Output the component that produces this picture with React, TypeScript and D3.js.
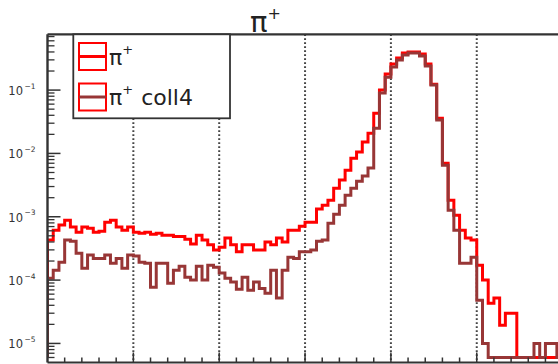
import React from "react";
import * as d3 from "d3";

// histogram binning: 15 bins per major x division, 3 per minor
const nBins = 90;
const binsPerMajor = 15;
const binsPerMinor = 3;

// bin contents (log scale); 0 = empty bin
const piPlus = [
  4.3e-4, 6.1e-4, 7.4e-4, 8.8e-4, 6.9e-4, 5.7e-4, 6.9e-4, 6.6e-4, 5.7e-4, 5.9e-4,
  8.2e-4, 8.8e-4, 6.9e-4, 6.1e-4, 6.9e-4, 5.7e-4, 5.5e-4, 5.7e-4, 5.3e-4, 5.5e-4,
  5.1e-4, 5.1e-4, 4.9e-4, 4.9e-4, 4.4e-4, 3.7e-4, 5.1e-4, 4.3e-4, 3.6e-4, 3.0e-4,
  3.3e-4, 4.6e-4, 3.6e-4, 2.8e-4, 3.6e-4, 3.6e-4, 3.0e-4, 3.0e-4, 4.0e-4, 3.6e-4,
  4.6e-4, 4.0e-4, 6.1e-4, 6.1e-4, 7.1e-4, 8.2e-4, 8.2e-4, 1.32e-3, 1.52e-3, 1.83e-3,
  2.83e-3, 3.8e-3, 5.4e-3, 8.4e-3, 1.05e-2, 1.51e-2, 2.09e-2, 4.3e-2, 0.1, 0.179,
  0.258, 0.321, 0.385, 0.4, 0.4, 0.37, 0.258, 0.124, 3.6e-2, 7.0e-3,
  1.83e-3, 1.06e-3, 6.1e-4, 4.6e-4, 4.3e-4, 1.72e-4, 1.0e-4, 4.3e-5, 5.2e-5, 1.94e-5,
  3.0e-5, 3.0e-5, 0, 0, 0, 0, 0, 0, 0, 0,
];

const piPlusColl4 = [
  1.07e-4, 1.43e-4, 1.92e-4, 4.3e-4, 4.1e-4, 2.66e-4, 1.54e-4, 2.5e-4, 2.2e-4, 2.2e-4,
  2.5e-4, 1.85e-4, 2.2e-4, 1.54e-4, 2.5e-4, 2.4e-4, 1.92e-4, 1.85e-4, 7.7e-5, 1.85e-4,
  1.85e-4, 8.9e-5, 1.43e-4, 1.66e-4, 1.11e-4, 1.0e-4, 1.66e-4, 1.0e-4, 1.72e-4, 1.6e-4,
  1.29e-4, 1.07e-4, 9.3e-5, 7.2e-5, 1.11e-4, 6.9e-5, 9.3e-5, 7.4e-5, 6.2e-5, 1.43e-4,
  5.2e-5, 1.43e-4, 2.3e-4, 2.2e-4, 2.8e-4, 2.8e-4, 3.0e-4, 4.1e-4, 4.3e-4, 7.9e-4,
  1.1e-3, 1.52e-3, 2.19e-3, 2.83e-3, 3.65e-3, 4.4e-3, 5.9e-3, 2.5e-2, 9.0e-2, 0.16,
  0.231, 0.298, 0.357, 0.385, 0.385, 0.344, 0.239, 0.12, 3.36e-2, 6.5e-3,
  1.27e-3, 6.1e-4, 1.85e-4, 1.85e-4, 2.3e-4, 4.8e-5, 1.0e-5, 0, 0, 0,
  0, 0, 0, 0, 0, 1.0e-5, 0, 1.0e-5, 1.0e-5, 0,
];

const yDecades = [1e-1, 1e-2, 1e-3, 1e-4, 1e-5];
const yExponents = ["\u22121", "\u22122", "\u22123", "\u22124", "\u22125"];
const legendNames = ["\u03c0", "\u03c0"];
const legendSuffix = ["", "coll4"];
const title = "\u03c0";

const RED = "#ff0000";
const BROWN = "#983636";
const INK = "#333";
const FONT = "'DejaVu Sans', sans-serif";

export default function App() {
  const W = 558;
  const H = 364;
  const left = 47.5;
  const top = 34.3;
  const bottom = 362.5;
  const binW = 85.85 / binsPerMajor;

  const x = d3.scaleLinear().domain([0, nBins]).range([left, left + nBins * binW]);
  const y = d3.scaleLog().domain([5e-6, 0.76]).range([bottom, top]).clamp(true);
  const floor = 6e-6; // where empty bins get drawn

  const stepPath = (vals: number[]) => {
    const pts: [number, number][] = [[0, floor]];
    vals.forEach((v, i) => {
      const vv = v > 0 ? v : floor;
      pts.push([i, vv], [i + 1, vv]);
    });
    return d3.line<[number, number]>().x((d) => x(d[0])).y((d) => y(d[1]))(pts) || "";
  };

  // log minor ticks 2..9 per decade
  const minorY: number[] = [];
  for (let e = -6; e <= 0; e++) {
    for (let m = 2; m <= 9; m++) {
      const v = m * Math.pow(10, e);
      if (v > 5e-6 && v < 0.76) minorY.push(v);
    }
  }
  const majorX = d3.range(binsPerMajor, nBins + 1, binsPerMajor);
  const minorX = d3.range(binsPerMinor, nBins, binsPerMinor).filter((b) => b % binsPerMajor !== 0);

  return (
    <svg width={W} height={H} style={{ position: "fixed", left: 0, top: 0, background: "#fff" }}>
      <defs>
        <clipPath id="frame">
          <rect x={left} y={top} width={W - left} height={bottom - top} />
        </clipPath>
      </defs>

      {/* grid */}
      {majorX.map((b) => (
        <line key={"g" + b} x1={x(b)} x2={x(b)} y1={top} y2={bottom}
          stroke="#444" strokeWidth={2} strokeDasharray="1.6 2.4" />
      ))}

      {/* histograms */}
      <g clipPath="url(#frame)" fill="none" strokeWidth={3} strokeLinejoin="miter">
        <path d={stepPath(piPlus)} stroke={RED} />
        <path d={stepPath(piPlusColl4)} stroke={BROWN} />
      </g>

      {/* x ticks */}
      {minorX.map((b) => (
        <line key={"mx" + b} x1={x(b)} x2={x(b)} y1={bottom} y2={bottom - 5} stroke={INK} strokeWidth={1.5} />
      ))}
      {majorX.map((b) => (
        <line key={"Mx" + b} x1={x(b)} x2={x(b)} y1={bottom} y2={bottom - 10} stroke={INK} strokeWidth={1.5} />
      ))}

      {/* y ticks */}
      {minorY.map((v, i) => (
        <line key={"my" + i} x1={left} x2={left + 7} y1={y(v)} y2={y(v)} stroke={INK} strokeWidth={1.3} />
      ))}
      {yDecades.map((v, i) => (
        <g key={"My" + i}>
          <line x1={left} x2={left + 13} y1={y(v)} y2={y(v)} stroke={INK} strokeWidth={1.5} />
          <text x={23} y={y(v) + 5} textAnchor="end" fontFamily={FONT} fontSize={11.5} fill={INK}>10</text>
          <text x={24.5} y={y(v) - 1.5} fontFamily={FONT} fontSize={7.5} fill={INK}>{yExponents[i]}</text>
        </g>
      ))}

      {/* frame */}
      <line x1={left} x2={W} y1={top} y2={top} stroke={INK} strokeWidth={2.2} />
      <line x1={left} x2={W} y1={bottom} y2={bottom} stroke={INK} strokeWidth={2.2} />
      <line x1={left} x2={left} y1={top} y2={bottom} stroke={INK} strokeWidth={2.4} />

      {/* title */}
      <text x={250} y={32} fontFamily={FONT} fontSize={29} fill="#222">
        {title}
        <tspan dy={-13} fontSize={16}>+</tspan>
      </text>

      {/* legend */}
      <rect x={73.3} y={top} width={156.7} height={84} fill="#fff" stroke={INK} strokeWidth={1.8} />
      {legendNames.map((name, i) => {
        const cy = i === 0 ? 56.5 : 97;
        return (
          <g key={"l" + i}>
            <rect x={79} y={cy - 13.5} width={27} height={27} fill="none" stroke={RED} strokeWidth={2} />
            <line x1={79} x2={106} y1={cy} y2={cy} stroke={i === 0 ? RED : BROWN} strokeWidth={3} />
            <text x={109} y={cy + 8} fontFamily={FONT} fontSize={22} fill="#222">
              {name}
              <tspan dy={-11} fontSize={13}>+</tspan>
              {legendSuffix[i] && <tspan dy={11} dx={8}>{legendSuffix[i]}</tspan>}
            </text>
          </g>
        );
      })}
    </svg>
  );
}
